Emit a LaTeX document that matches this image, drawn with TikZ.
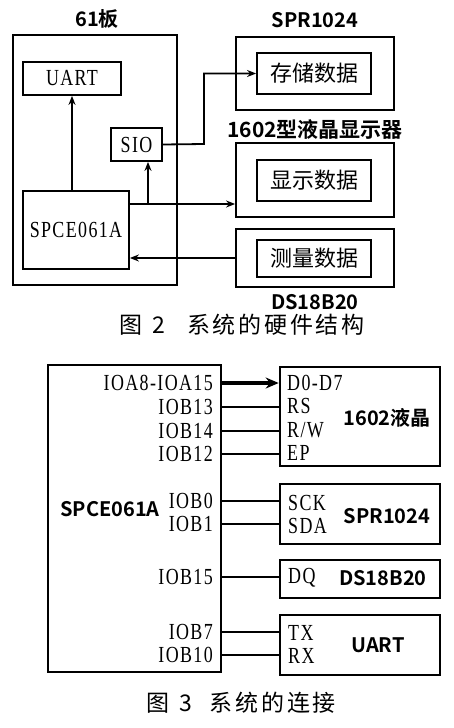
\documentclass[tikz,border=0pt]{standalone}
\usepackage{fontspec}
\usepackage{tikz}
\usetikzlibrary{positioning, calc, arrows.meta}
\setmainfont{Liberation Serif}
\newfontfamily\pinfont[FakeStretch=0.78, LetterSpace=6]{Liberation Serif}
\newfontfamily\cjkfont{Noto Sans CJK SC}
\newfontfamily\capfont[LetterSpace=12]{Noto Sans CJK SC}
\newfontfamily\headfont{Noto Sans CJK SC Bold}
\tikzset{
  blk/.style={draw, line width=1.8pt, inner sep=0pt},
  pin/.style={font=\pinfont\fontsize{23}{23}\selectfont, inner sep=0pt},
  head/.style={font=\headfont\fontsize{20}{20}\selectfont, inner sep=0pt},
  data/.style={font=\cjkfont\fontsize{22}{22}\selectfont, inner sep=0pt},
  figcap/.style={font=\capfont\fontsize{23}{23}\selectfont, inner sep=0pt},
  wire/.style={line width=1.8pt},
}
\begin{document}
\begin{tikzpicture}[x=1pt, y=-1pt, >={Stealth[length=9pt,width=7pt]}]
    \useasboundingbox (0,0) rectangle (453,728);

    % --- Figure 2: hardware structure ---
    \node[blk, minimum width=164pt, minimum height=250pt] (board) at (95,160) {};
    \node[head] (boardlbl) at (97,19) {61板};
    \node[blk, minimum width=98pt, minimum height=33pt, pin] (uartA) at (72,78.5) {UART};
    \node[blk, minimum width=51pt, minimum height=33pt, pin] (sio) at (136.5,144.5) {SIO};
    \node[blk, minimum width=106pt, minimum height=78pt, pin] (spceA) at (76,230) {SPCE061A};

    % outer device boxes with inner data boxes
    \node[blk, minimum width=158pt, minimum height=73pt] (sprA) at (315,73.5) {};
    \node[blk, minimum width=114pt, minimum height=41pt, data] (sprin) at (314,73.5) {存储数据};
    \node[head] (sprlbl) at (315,20) {SPR1024};

    \node[blk, minimum width=158pt, minimum height=74pt] (lcdA) at (315,180) {};
    \node[blk, minimum width=114pt, minimum height=41pt, data] (lcdin) at (314,180.5) {显示数据};
    \node[head, font=\headfont\fontsize{21}{21}\selectfont] (lcdlbl) at (315,129) {1602型液晶显示器};

    \node[blk, minimum width=158pt, minimum height=58pt] (dsA) at (315,258) {};
    \node[blk, minimum width=114pt, minimum height=37pt, data] (dsin) at (314,258.5) {测量数据};
    \node[head] (dslbl) at (315,302) {DS18B20};

    % connectors
    \draw[wire,->] (spceA.north -| uartA) -- (uartA.south);
    \coordinate (tap) at (148,204);
    \coordinate (bend) at (204,144);
    \draw[wire,->] (spceA.east |- tap) -- (lcdA.west |- tap);
    \draw[wire,->] (tap) -- (tap |- sio.south);
    \draw[wire,->] (sio.east) -- (bend) |- (sprin.west);
    \draw[wire,->] (dsA.west) -- (dsA.west -| spceA.east);

    \node[figcap] (capA) at (242,325) {图\hspace{10pt}2\hspace{22pt}系统的硬件结构};

    % --- Figure 3: system connection ---
    \node[blk, line width=2.6pt, minimum width=173pt, minimum height=307pt] (spceB) at (134.5,518.5) {};
    \node[head] (spcelbl) at (110,509) {SPCE061A};

    \node[blk, line width=2.6pt, minimum width=160pt, minimum height=99pt] (lcdB) at (360,416.5) {};
    \node[blk, line width=2.6pt, minimum width=160pt, minimum height=60pt] (sprB) at (360,514) {};
    \node[blk, line width=2.6pt, minimum width=160pt, minimum height=38pt] (dsB) at (360,579) {};
    \node[blk, line width=2.6pt, minimum width=160pt, minimum height=60pt] (uartB) at (360,645) {};

    \node[head] (lcdname) at (387,418) {1602液晶};
    \node[head] (sprname) at (387,516) {SPR1024};
    \node[head] (dsname) at (383,578) {DS18B20};
    \node[head] (uartname) at (378,645) {UART};

    % pin labels on the controller side
    \foreach \n/\y/\t in {a/383/IOA8-IOA15, b/407/IOB13, c/431/IOB14, d/454/IOB12,
                          e/501/IOB0, f/524/IOB1, g/577/IOB15, h/632/IOB7, i/655/IOB10}
      \node[pin, anchor=east] (p\n) at (213,\y) {\t};

    % pin labels on the device side
    \foreach \n/\y/\t in {a/383/D0-D7, b/406/RS, c/430/{R/W}, d/453/EP}
      \node[pin, anchor=west] (q\n) at (287,\y) {\t};
    \foreach \n/\y/\t in {e/503/SCK, f/526/SDA}
      \node[pin, anchor=west] (q\n) at (288,\y) {\t};
    \node[pin, anchor=west] (qg) at (288,578) {DQ};
    \foreach \n/\y/\t in {h/633/TX, i/656/RX}
      \node[pin, anchor=west] (q\n) at (288,\y) {\t};

    % wires
    \draw[line width=3.6pt, -{Stealth[length=13pt,width=11pt]}] (spceB.east |- pa) -- (lcdB.west |- pa);
    \foreach \n in {b,c,d}
      \draw[wire] (spceB.east |- p\n) -- (lcdB.west |- p\n);
    \foreach \n in {e,f}
      \draw[wire] (spceB.east |- p\n) -- (sprB.west |- p\n);
    \draw[wire] (spceB.east |- pg) -- (dsB.west |- pg);
    \foreach \n in {h,i}
      \draw[wire] (spceB.east |- p\n) -- (uartB.west |- p\n);

    \node[figcap] (capB) at (241,703) {图\hspace{10pt}3\hspace{18pt}系统的连接};

\end{tikzpicture}
\end{document}
